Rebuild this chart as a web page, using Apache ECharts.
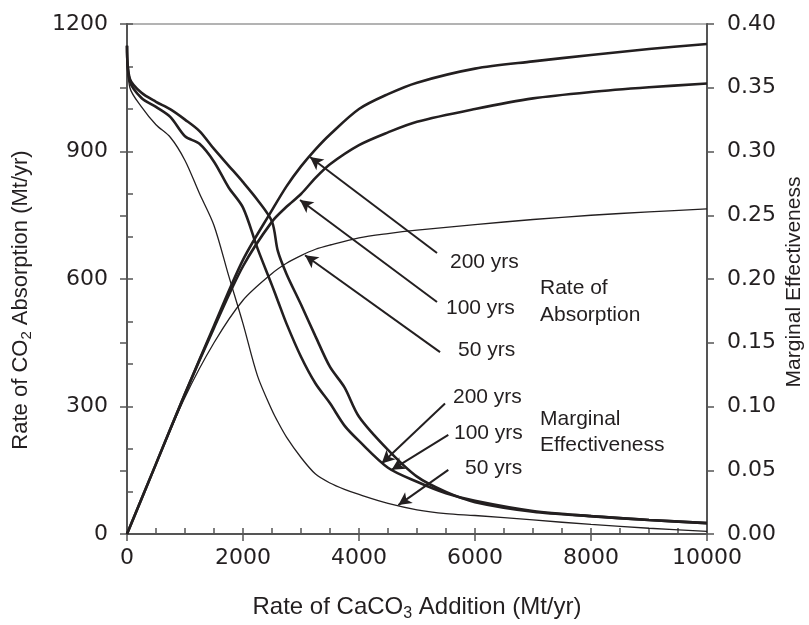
<!DOCTYPE html>
<html>
<head>
<meta charset="utf-8">
<script src="https://cdn.jsdelivr.net/npm/echarts@6/dist/echarts.min.js"></script>
<style>
html,body{margin:0;padding:0;background:#fff;}
#chart{width:809px;height:625px;}
</style>
</head>
<body>
<div id="chart"></div>
<script>
// ---- Data ----
// Rate of CO2 absorption (Mt/yr) vs rate of CaCO3 addition (Mt/yr)
var xAbs = [0,500,1000,1500,2000,2500,2750,3000,3250,3500,4000,4500,5000,6000,7000,8000,9000,10000];
var abs200 = [0,165,330,490,645,762,818,865,905,940,1000,1035,1062,1095,1112,1127,1141,1153];
var abs100 = [0,165,330,485,630,735,770,800,838,870,915,945,970,1000,1025,1040,1051,1060];
var abs50  = [0,165,322,450,550,613,637,655,670,680,697,707,715,728,740,750,758,765];

// Marginal effectiveness vs rate of CaCO3 addition
var xMe = [0,50,250,500,750,1000,1250,1500,1750,2000,2250,2500,2600,2750,3000,3250,3500,3750,4000,4500,5000,5500,6000,7000,8000,9000,10000];
var me200 = [0.383,0.357,0.346,0.339,0.333,0.325,0.316,0.302,0.289,0.276,0.262,0.245,0.222,0.204,0.180,0.155,0.131,0.115,0.092,0.066,0.045,0.033,0.025,0.0175,0.014,0.011,0.0085];
var me100 = [0.383,0.355,0.342,0.335,0.327,0.312,0.306,0.292,0.272,0.256,0.224,0.195,0.183,0.165,0.139,0.118,0.1025,0.085,0.073,0.052,0.041,0.032,0.026,0.018,0.014,0.011,0.0085];
var me50  = [0.383,0.350,0.335,0.321,0.311,0.293,0.267,0.242,0.203,0.165,0.124,0.097,0.088,0.076,0.060,0.047,0.040,0.035,0.031,0.024,0.019,0.016,0.0145,0.011,0.0075,0.0045,0.002];

// Axis ticks
var xTicks = {min:0, max:10000, major:2000, minor:500};
var yLeftTicks = {min:0, max:1200, major:300, minor:100};
var yRightTicks = {min:0, max:0.40, major:0.05};

// Axis titles
var xTitle = 'Rate of CaCO{sub|3} Addition (Mt/yr)';
var yLeftTitle = 'Rate of CO{sub|2} Absorption (Mt/yr)';
var yRightTitle = 'Marginal Effectiveness';

// Annotation arrows (data coordinates on left axis) and labels
var arrows = [
  {from:[5345,661], to:[3155,887]},
  {from:[5345,546], to:[2983,786]},
  {from:[5397,428], to:[3069,656]},
  {from:[5483,307], to:[4391,166]},
  {from:[5540,233], to:[4563,151]},
  {from:[5540,151], to:[4678,68]}
];
var annoTexts = [
  {text:'200 yrs', at:[450,262]},
  {text:'100 yrs', at:[446,308]},
  {text:'50 yrs', at:[458,350]},
  {text:'Rate of', at:[540,288]},
  {text:'Absorption', at:[540,315]},
  {text:'200 yrs', at:[453,397]},
  {text:'100 yrs', at:[454,433]},
  {text:'50 yrs', at:[465,468]},
  {text:'Marginal', at:[540,419]},
  {text:'Effectiveness', at:[540,445]}
];

function pairs(xs, ys){ return xs.map(function(x,i){return [x, ys[i]];}); }

var INK = '#231f20';
var FONT = 'Liberation Sans, Arial, sans-serif';
var TICKFONT = 'DejaVu Sans, Liberation Sans, sans-serif';
var AXC = '#555555';

var chart = echarts.init(document.getElementById('chart'), null, {renderer:'canvas'});

function lineSeries(name, xs, ys, yIdx, w){
  return {
    name:name, type:'line', xAxisIndex:0, yAxisIndex:yIdx,
    data: pairs(xs, ys), showSymbol:false, symbol:'none', smooth:0.3,
    lineStyle:{color:INK, width:w}, silent:true, animation:false, z:3
  };
}

var subRich = {sub:{fontSize:15, fill:INK, fontFamily:FONT, padding:[12,0,0,0]}};

var graphics = annoTexts.map(function(t){
  return {type:'text', x:t.at[0], y:t.at[1], silent:true,
    style:{text:t.text, fill:INK, font:'21px ' + FONT, verticalAlign:'middle'}};
});
graphics.push({type:'text', x:417, y:607, silent:true,
  style:{text:xTitle, fill:INK, fontSize:24, fontFamily:FONT, align:'center', verticalAlign:'middle',
    rich:{sub:{fontSize:16, fill:INK, fontFamily:FONT, padding:[13,0,0,0]}}}});
graphics.push({type:'text', x:21, y:300, rotation:Math.PI/2, silent:true,
  style:{text:yLeftTitle, fill:INK, fontSize:22, fontFamily:FONT, align:'center', verticalAlign:'middle', rich:subRich}});
graphics.push({type:'text', x:794, y:282, rotation:Math.PI/2, silent:true,
  style:{text:yRightTitle, fill:INK, fontSize:21, fontFamily:FONT, align:'center', verticalAlign:'middle'}});

var option = {
  backgroundColor:'#ffffff',
  animation:false,
  textStyle:{fontFamily:FONT, color:INK},
  grid:{left:127, right:102, top:24, bottom:91, show:true, borderColor:'#9a9a9a', borderWidth:1.5, containLabel:false, outerBoundsMode:'none'},
  xAxis:[
    {
      type:'value', min:xTicks.min, max:xTicks.max, interval:xTicks.major,
      axisLine:{show:true, onZero:false, lineStyle:{color:AXC, width:2}},
      axisTick:{show:true, inside:false, length:7, lineStyle:{color:AXC, width:1.5}},
      axisLabel:{fontSize:22, color:INK, margin:13, fontFamily:TICKFONT, formatter:function(v){return String(v);}},
      splitLine:{show:false}
    },
    {
      type:'value', min:xTicks.min, max:xTicks.max, interval:xTicks.minor, position:'bottom',
      axisLine:{show:false}, axisLabel:{show:false}, splitLine:{show:false},
      axisTick:{show:true, inside:true, length:6, lineStyle:{color:AXC, width:1.5}}
    }
  ],
  yAxis:[
    {
      type:'value', position:'left', min:yLeftTicks.min, max:yLeftTicks.max, interval:yLeftTicks.major,
      axisLine:{show:true, onZero:false, lineStyle:{color:AXC, width:2}},
      axisTick:{show:true, inside:false, length:7, lineStyle:{color:AXC, width:1.5}},
      axisLabel:{fontSize:22, color:INK, margin:19, fontFamily:TICKFONT, formatter:function(v){return String(v);}},
      splitLine:{show:false}
    },
    {
      type:'value', position:'right', min:yRightTicks.min, max:yRightTicks.max, interval:yRightTicks.major,
      axisLine:{show:true, onZero:false, lineStyle:{color:AXC, width:2}},
      axisTick:{show:true, inside:false, length:7, lineStyle:{color:AXC, width:1.5}},
      axisLabel:{fontSize:22, color:INK, margin:20, fontFamily:TICKFONT, formatter:function(v){return v.toFixed(2);}},
      splitLine:{show:false}
    },
    {
      type:'value', position:'left', min:yLeftTicks.min, max:yLeftTicks.max, interval:yLeftTicks.minor,
      axisLine:{show:false}, axisLabel:{show:false}, splitLine:{show:false},
      axisTick:{show:true, inside:true, length:6, lineStyle:{color:AXC, width:1.5}}
    },
    {
      type:'value', position:'right', min:yRightTicks.min, max:yRightTicks.max, interval:yRightTicks.major,
      axisLine:{show:false}, axisLabel:{show:false}, splitLine:{show:false},
      axisTick:{show:true, inside:true, length:7, lineStyle:{color:AXC, width:1.5}}
    }
  ],
  series:[
    lineSeries('Absorption 200 yrs', xAbs, abs200, 0, 2.6),
    lineSeries('Absorption 100 yrs', xAbs, abs100, 0, 2.6),
    lineSeries('Absorption 50 yrs', xAbs, abs50, 0, 1.3),
    lineSeries('Marginal 200 yrs', xMe, me200, 1, 2.6),
    lineSeries('Marginal 100 yrs', xMe, me100, 1, 2.6),
    lineSeries('Marginal 50 yrs', xMe, me50, 1, 1.3),
    {
      name:'arrows', type:'line', xAxisIndex:0, yAxisIndex:0, data:[], silent:true, animation:false,
      markLine:{
        silent:true, animation:false, symbol:['none','arrow'], symbolSize:[10,13],
        label:{show:false},
        lineStyle:{color:INK, width:2, type:'solid'},
        emphasis:{disabled:true},
        data: arrows.map(function(a){ return [{coord:a.from}, {coord:a.to}]; })
      }
    }
  ],
  graphic: graphics
};
chart.setOption(option);
</script>
</body>
</html>
